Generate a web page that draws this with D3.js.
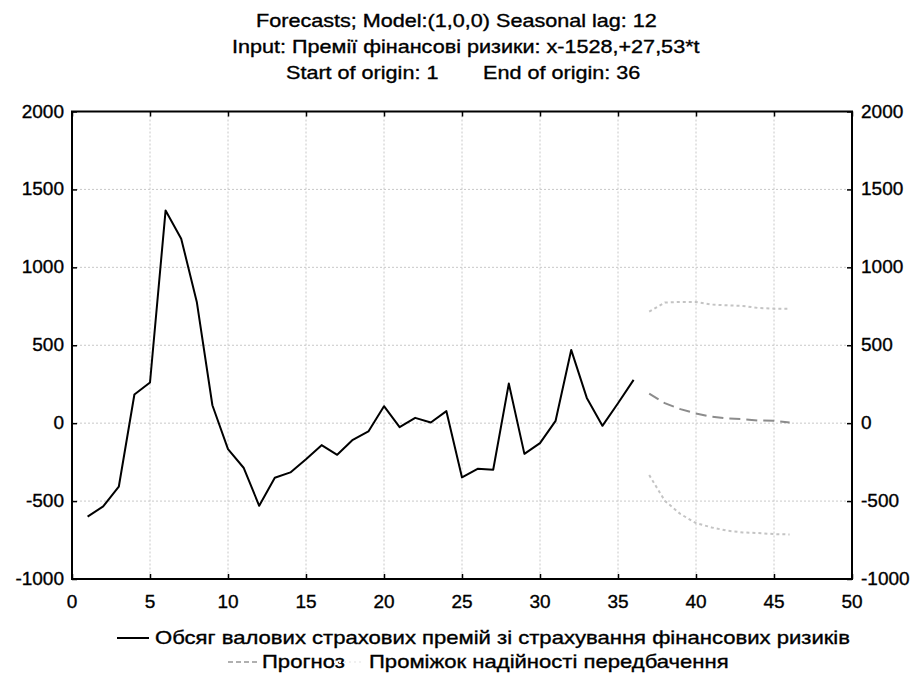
<!DOCTYPE html>
<meta charset="utf-8">
<style>
    body { margin: 0; background: #fff; }
    text { font-family: "Liberation Sans", Arial, sans-serif; fill: #000; stroke: #000; stroke-width: 0.35px; }
    .grid line { stroke: #c8c8c8; stroke-width: 1px; stroke-dasharray: 2,2; }
    .frame { fill: none; stroke: #000; stroke-width: 2px; }
</style>
<title>Forecasts</title>
<body>
<script src="https://d3js.org/d3.v7.min.js"></script>
<script>
    // observed series, t = 1..36
    var observed = [-600, -534, -408, 184, 261, 1365, 1184, 778, 115, -167,
                    -286, -530, -350, -316, -231, -141, -203, -107, -53, 109,
                    -26, 34, 4, 77, -348, -293, -299, 254, -197, -128,
                    15, 470, 162, -17, 128, 278];
    // forecasts, t = 37..46
    var forecast = [190, 128, 90, 62, 41, 30, 26, 17, 15, 4];
    var upper = [716, 774, 778, 778, 761, 756, 752, 739, 735, 735];
    var lower = [-333, -498, -583, -641, -669, -690, -701, -705, -712, -714];

    var xTicks = [0, 5, 10, 15, 20, 25, 30, 35, 40, 45, 50];
    var yTicks = [-1000, -500, 0, 500, 1000, 1500, 2000];

    var title1 = "Forecasts; Model:(1,0,0) Seasonal lag: 12";
    var title2 = "Input: Премії фінансові ризики: x-1528,+27,53*t";
    var title3a = "Start of origin: 1";
    var title3b = "End of origin: 36";
    var legendObs = "Обсяг валових страхових премій зі страхування фінансових ризиків";
    var legendFc = "Прогноз";
    var legendCi = "Проміжок надійності передбачення";

    var width = 914, height = 675;
    var pLeft = 72, pRight = 852, pTop = 111.5, pBottom = 579;
    var sx = 1.2; // the original lettering is drawn wide

    var svg = d3.select('body').append('svg')
        .attr('width', width)
        .attr('height', height);

    var x = d3.scaleLinear().domain([0, 50]).range([pLeft, pRight]);
    var y = d3.scaleLinear().domain([-1000, 2000]).range([pBottom, pTop]);

    // gridlines
    var grid = svg.append('g').attr('class', 'grid');
    grid.selectAll('.gx').data(xTicks.slice(1, -1)).enter().append('line')
        .attr('x1', d => x(d)).attr('x2', d => x(d))
        .attr('y1', pTop).attr('y2', pBottom);
    grid.selectAll('.gy').data(yTicks.slice(1, -1)).enter().append('line')
        .attr('x1', pLeft).attr('x2', pRight)
        .attr('y1', d => y(d)).attr('y2', d => y(d));

    // axes, ticks pointing inward
    svg.append('g').attr('transform', `translate(0,${pBottom})`)
        .call(d3.axisTop(x).tickValues(xTicks).tickSize(5).tickFormat(''))
        .call(g => g.select('.domain').remove());
    svg.append('g').attr('transform', `translate(0,${pTop})`)
        .call(d3.axisBottom(x).tickValues(xTicks).tickSize(5).tickFormat(''))
        .call(g => g.select('.domain').remove());
    svg.append('g').attr('transform', `translate(${pLeft},0)`)
        .call(d3.axisRight(y).tickValues(yTicks).tickSize(5).tickFormat(''))
        .call(g => g.select('.domain').remove());
    svg.append('g').attr('transform', `translate(${pRight},0)`)
        .call(d3.axisLeft(y).tickValues(yTicks).tickSize(5).tickFormat(''))
        .call(g => g.select('.domain').remove());
    svg.selectAll('.tick line').attr('stroke', '#000').attr('stroke-width', 1.5);

    // tick labels
    var tickFont = '19px';
    svg.append('g').selectAll('text').data(xTicks).enter().append('text')
        .attr('x', d => x(d)).attr('y', pBottom + 29)
        .attr('text-anchor', 'middle').style('font-size', tickFont)
        .text(d => d);
    svg.append('g').selectAll('text').data(yTicks).enter().append('text')
        .attr('x', pLeft - 8).attr('y', d => y(d) + 6)
        .attr('text-anchor', 'end').style('font-size', tickFont)
        .text(d => d);
    svg.append('g').selectAll('text').data(yTicks).enter().append('text')
        .attr('x', pRight + 9).attr('y', d => y(d) + 6)
        .attr('text-anchor', 'start').style('font-size', tickFont)
        .text(d => d);

    // series
    var line = d3.line().x(d => x(d.t)).y(d => y(d.v));
    var obs = observed.map((v, i) => ({t: i + 1, v: v}));
    var fc = forecast.map((v, i) => ({t: i + 37, v: v}));
    var up = upper.map((v, i) => ({t: i + 37, v: v}));
    var lo = lower.map((v, i) => ({t: i + 37, v: v}));

    svg.append('path').datum(up).attr('d', line)
        .attr('fill', 'none').attr('stroke', '#c4c4c4').attr('stroke-width', 2)
        .attr('stroke-dasharray', '3,3');
    svg.append('path').datum(lo).attr('d', line)
        .attr('fill', 'none').attr('stroke', '#c4c4c4').attr('stroke-width', 2)
        .attr('stroke-dasharray', '3,3');
    svg.append('path').datum(fc).attr('d', line)
        .attr('fill', 'none').attr('stroke', '#8c8c8c').attr('stroke-width', 2)
        .attr('stroke-dasharray', '11,6');
    svg.append('path').datum(obs).attr('d', line)
        .attr('fill', 'none').attr('stroke', '#000').attr('stroke-width', 2)
        .attr('stroke-linejoin', 'round');

    // frame
    svg.append('rect').attr('class', 'frame')
        .attr('x', pLeft).attr('y', pTop)
        .attr('width', pRight - pLeft).attr('height', pBottom - pTop);

    // wide text helper
    function wideText(px, py, str, size) {
        return svg.append('text')
            .attr('transform', `translate(${px},${py}) scale(${sx},1)`)
            .style('font-size', (size || 18) + 'px')
            .text(str);
    }

    // titles
    wideText(256, 27, title1);
    wideText(232, 53, title2);
    wideText(286, 79, title3a);
    wideText(483, 79, title3b);

    // legend
    svg.append('line').attr('x1', 117).attr('x2', 149).attr('y1', 638).attr('y2', 638)
        .attr('stroke', '#000').attr('stroke-width', 2);
    wideText(155, 644, legendObs, 18.4);
    svg.append('line').attr('x1', 228).attr('x2', 257).attr('y1', 662).attr('y2', 662)
        .attr('stroke', '#b0b0b0').attr('stroke-width', 2).attr('stroke-dasharray', '5,3');
    wideText(262, 668, legendFc, 18.4);
    svg.append('line').attr('x1', 334).attr('x2', 362).attr('y1', 662).attr('y2', 662)
        .attr('stroke', '#f0f0f0').attr('stroke-width', 2).attr('stroke-dasharray', '2,3');
    wideText(369, 668, legendCi, 18.4);
</script>
</body>
